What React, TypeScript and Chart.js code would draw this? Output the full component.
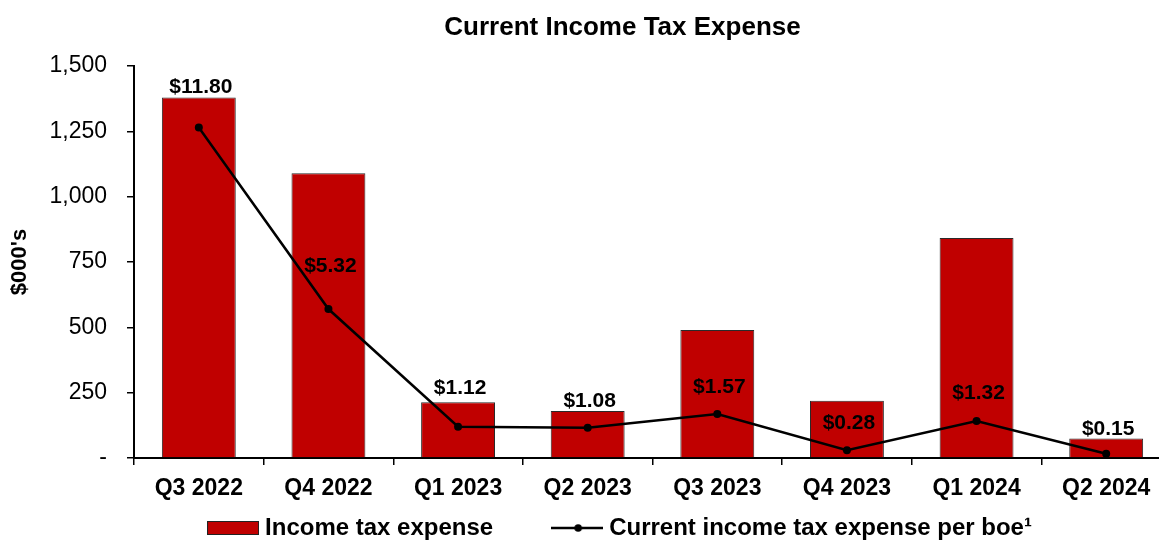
import React, { useEffect, useRef } from 'react';
import { Chart, registerables } from 'chart.js';

Chart.register(...registerables);

const categories = ['Q3 2022', 'Q4 2022', 'Q1 2023', 'Q2 2023', 'Q3 2023', 'Q4 2023', 'Q1 2024', 'Q2 2024'];
const incomeTaxExpense = [1379, 1090, 213, 180, 490, 219, 842, 75];
const taxPerBoe = [11.8, 5.32, 1.12, 1.08, 1.57, 0.28, 1.32, 0.15];
const leftAxisMax = 1500;
const leftAxisStep = 250;
const rightAxisMax = 14;

const FONT = '"Liberation Sans", Arial, Helvetica, sans-serif';
const BAR_COLOR = '#C00000';
// vertical lift of each per-boe label above its point (style only)
const LABEL_LIFT = [40, 43, 38, 27, 27, 27, 28, 25];

export default function App() {
  const ref = useRef<HTMLCanvasElement>(null);

  useEffect(() => {
    const canvas = ref.current;
    if (!canvas) return;

    const barImg = document.createElement('canvas');
    barImg.width = 52;
    barImg.height = 14;
    const bctx = barImg.getContext('2d')!;
    bctx.fillStyle = BAR_COLOR;
    bctx.fillRect(0, 0, 52, 14);
    bctx.strokeStyle = '#222';
    bctx.lineWidth = 1;
    bctx.strokeRect(0.5, 0.5, 51, 13);

    const lineImg = document.createElement('canvas');
    lineImg.width = 52;
    lineImg.height = 10;
    const lctx = lineImg.getContext('2d')!;
    lctx.strokeStyle = '#000';
    lctx.lineWidth = 2.5;
    lctx.beginPath();
    lctx.moveTo(0, 5);
    lctx.lineTo(52, 5);
    lctx.stroke();
    lctx.fillStyle = '#000';
    lctx.beginPath();
    lctx.arc(27, 5, 3.8, 0, Math.PI * 2);
    lctx.fill();

    // measure widest y tick label to right-align mirrored labels outside the axis
    const mctx = document.createElement('canvas').getContext('2d')!;
    mctx.font = `23px ${FONT}`;
    const widest = mctx.measureText(leftAxisMax.toLocaleString('en-US')).width;

    const labelPlugin = {
      id: 'perBoeLabels',
      afterDatasetsDraw(chart: any) {
        const meta = chart.getDatasetMeta(1);
        const ctx = chart.ctx;
        ctx.save();
        ctx.font = `bold 21px ${FONT}`;
        ctx.fillStyle = '#000';
        ctx.textAlign = 'center';
        ctx.textBaseline = 'middle';
        meta.data.forEach((pt: any, i: number) => {
          ctx.fillText('$' + taxPerBoe[i].toFixed(2), pt.x + 2, pt.y - LABEL_LIFT[i]);
        });
        ctx.restore();
      },
    };

    const chart = new Chart(canvas, {
      type: 'bar',
      data: {
        labels: categories,
        datasets: [
          {
            type: 'bar',
            label: 'Income tax expense',
            data: incomeTaxExpense,
            backgroundColor: BAR_COLOR,
            borderColor: '#2a2a2a',
            borderWidth: 1,
            yAxisID: 'y',
            order: 1,
            categoryPercentage: 1,
            barPercentage: 0.57,
          } as any,
          {
            type: 'line',
            label: 'Current income tax expense per boe¹',
            data: taxPerBoe,
            borderColor: '#000',
            backgroundColor: '#000',
            borderWidth: 2.5,
            pointRadius: 4,
            pointBackgroundColor: '#000',
            pointBorderWidth: 0,
            tension: 0,
            yAxisID: 'y1',
            order: 0,
          } as any,
        ],
      },
      options: {
        responsive: false,
        animation: false,
        devicePixelRatio: 1,
        layout: { padding: { left: 74, right: 10, top: 0, bottom: 0 } },
        plugins: {
          title: {
            display: true,
            text: 'Current Income Tax Expense',
            color: '#000',
            font: { family: FONT, size: 26, weight: 'bold', lineHeight: 1.2 },
            padding: { top: 12, bottom: 22.8 },
          },
          legend: {
            position: 'bottom',
            title: {
              display: true,
              text: '',
              font: { size: 10, lineHeight: 1.2 },
              padding: { top: -64, bottom: 0 },
            },
            labels: {
              usePointStyle: true,
              pointStyleWidth: 40,
              padding: 64,
              color: '#000',
              font: { family: FONT, size: 24, weight: 'bold' },
              generateLabels: (c: any) => {
                const items = (Chart.defaults.plugins.legend.labels.generateLabels as any)(c);
                items.sort((a: any, b: any) => a.datasetIndex - b.datasetIndex);
                items.forEach((it: any) => {
                  it.pointStyle = it.datasetIndex === 0 ? barImg : lineImg;
                });
                return items;
              },
            },
          },
          tooltip: { enabled: false },
        },
        scales: {
          x: {
            grid: {
              offset: true,
              drawOnChartArea: false,
              drawTicks: true,
              tickLength: 7,
              color: '#000',
              lineWidth: 1.5,
            },
            border: { display: true, color: '#000', width: 2 },
            ticks: {
              color: '#000',
              padding: 10,
              maxRotation: 0,
              autoSkip: false,
              font: { family: FONT, size: 23, weight: 'bold' },
            },
            afterFit: (s: any) => {
              s.height = 46;
            },
          },
          y: {
            position: 'left',
            min: 0,
            max: leftAxisMax,
            ticks: {
              stepSize: leftAxisStep,
              color: '#000',
              mirror: true,
              crossAlign: 'far',
              padding: -(7 + 20) - widest,
              font: { family: FONT, size: 23 },
              callback: (v: any) => (Number(v) === 0 ? '-' : Number(v).toLocaleString('en-US')),
            },
            grid: {
              drawOnChartArea: false,
              drawTicks: true,
              tickLength: 7,
              color: '#000',
              lineWidth: 1.5,
            },
            border: { display: true, color: '#000', width: 2 },
            title: {
              display: true,
              text: "$000's",
              color: '#000',
              font: { family: FONT, size: 22, weight: 'bold' },
              padding: { top: -67, bottom: 0 },
            },
            afterFit: (s: any) => {
              s.width = 60;
            },
          },
          y1: {
            display: false,
            position: 'right',
            min: 0,
            max: rightAxisMax,
          },
        },
      } as any,
      plugins: [labelPlugin],
    });

    return () => chart.destroy();
  }, []);

  return (
    <div
      style={{
        position: 'fixed',
        left: 0,
        top: 0,
        width: 1159,
        height: 540,
        overflow: 'hidden',
        background: '#fff',
      }}
    >
      <canvas ref={ref} width={1181} height={550} style={{ display: 'block', width: 1181, height: 550 }} />
    </div>
  );
}
